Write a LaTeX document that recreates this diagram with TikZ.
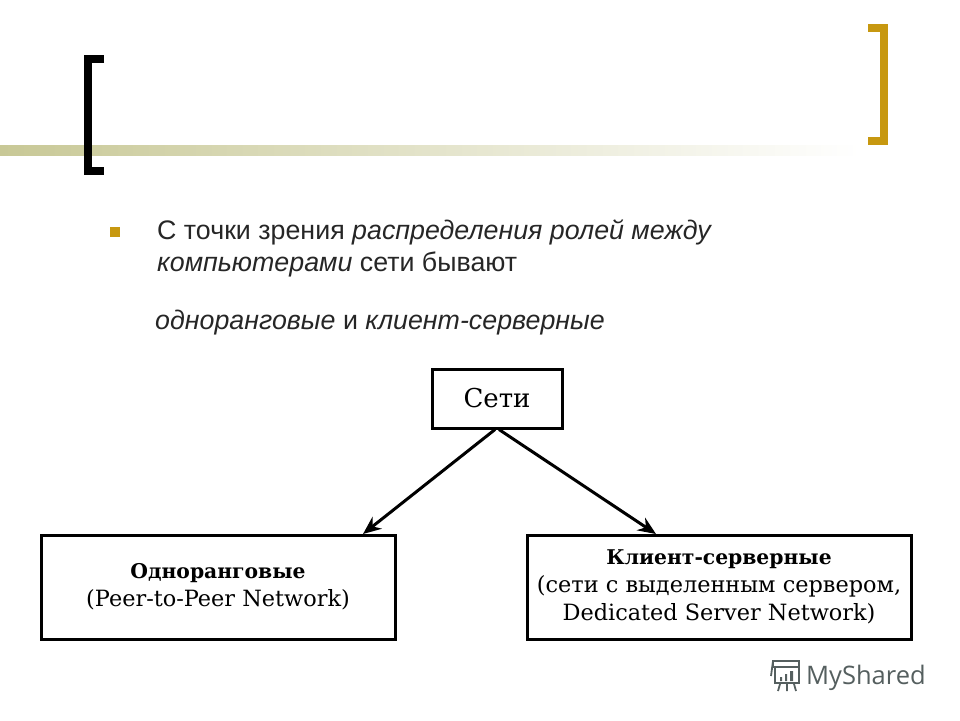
\documentclass[tikz,border=0pt]{standalone}
\usepackage{fontspec}
\setmainfont{Liberation Sans}
\newfontfamily\boxfont{DejaVu Serif}
\newfontfamily\logofont{Open Sans}
\usetikzlibrary{arrows.meta,calc}
\definecolor{barcol}{RGB}{200,200,150}
\definecolor{barmid}{RGB}{222,222,192}
\definecolor{goldcol}{RGB}{199,152,16}
\definecolor{logocol}{RGB}{85,95,95}
\tikzset{
  px/.style={x=1pt,y=-1pt},
  bodytext/.style={anchor=base west,inner sep=0pt,font=\fontsize{26.8}{26.8}\selectfont,text=black!85},
  netbox/.style={draw=black,line width=3pt,inner sep=0pt,align=center,fill=white},
  boxtext/.style={font=\boxfont\fontsize{22.4}{28}\selectfont},
  boxhead/.style={font=\boxfont\bfseries\fontsize{20.3}{28}\selectfont},
  link/.style={draw=black,line width=3pt,-{Stealth[length=18pt,width=15pt]}},
  bracketline/.style={line width=8pt,miter limit=10},
}
\newcommand{\boxhd}[1]{{\bfseries\fontsize{20.3}{28}\selectfont #1}}
\begin{document}
\begin{tikzpicture}[px]
\useasboundingbox (0,0) rectangle (960,720);
% bar
\shade[left color=barcol,middle color=barmid,right color=white] (0,145) rectangle (860,155);
% brackets
\draw[bracketline,black] (104,59) -- (88,59) -- (88,171) -- (104,171);
\draw[bracketline,goldcol] (868,28) -- (884,28) -- (884,141) -- (868,141);
% bullet
\fill[goldcol] (110,227) rectangle (120,237);
% text
\node[bodytext] (l1) at (157,239) {С точки зрения \textit{распределения ролей между}};
\node[bodytext] (l2) at (157,271) {\textit{компьютерами} сети бывают};
\node[bodytext] (l3) at (155,329) {\textit{одноранговые} и \textit{клиент-серверные}};
% boxes
\node[netbox,minimum width=130pt,minimum height=59pt,font=\boxfont\fontsize{26}{30}\selectfont] (root) at (497,398.5) {Сети};
\node[netbox,boxtext,minimum width=354pt,minimum height=104pt] (peer) at (218,587) {\boxhd{Одноранговые}\\(Peer-to-Peer Network)};
\node[netbox,boxtext,minimum width=384pt,minimum height=104pt] (cs) at (719,587) {\boxhd{Клиент-серверные}\\(сети с выделенным сервером,\\Dedicated Server Network)};
% connectors
\coordinate (peerin) at (363,534);
\coordinate (csin) at (656,534);
\draw[link] ([xshift=-2pt]root.south) -- (peerin);
\draw[link] ([xshift=2pt]root.south) -- (csin);
% logo
\node[anchor=base west,inner sep=0pt,font=\logofont\fontsize{25.5}{26}\selectfont,text=logocol] (logo) at (806,684) {MyShared};
\begin{scope}[draw=logocol,line width=1.8pt]
\draw (773,661) -- (799,661) -- (799,667) -- (773,667) -- cycle;
\draw (773,661) -- (771,676);
\draw (775,667) rectangle (799,683);
\draw (780,684) -- (778,691) (787,684) -- (787,691) (794,684) -- (796,691);
\fill[logocol] (780,677) rectangle (782,681) (785,674) rectangle (787,681) (790,671) rectangle (793,681);
\end{scope}
\end{tikzpicture}
\end{document}
